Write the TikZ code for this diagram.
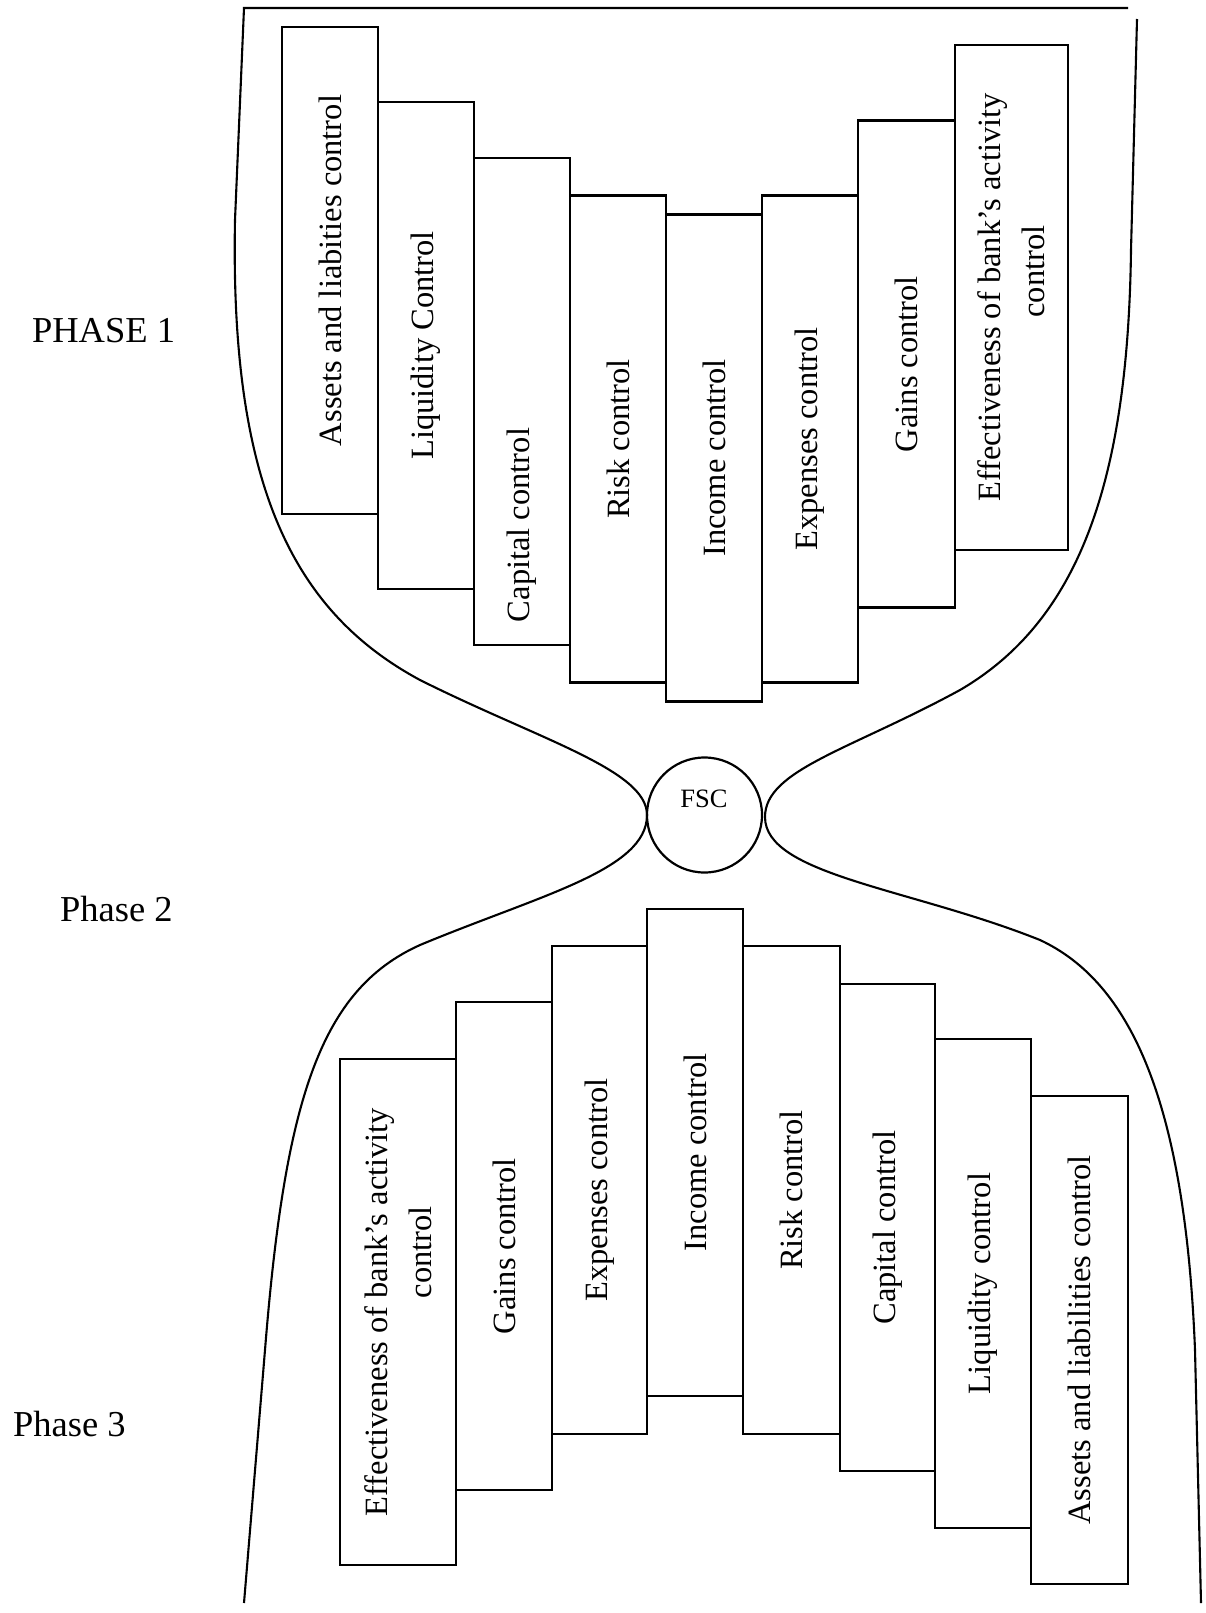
\documentclass[tikz,border=0pt]{standalone}
\usepackage{fontspec}
\setmainfont{Liberation Serif}
\begin{document}
\begin{tikzpicture}[x=1pt,y=-1pt,line width=2.2pt,
  box/.style={draw,rotate=90,inner sep=0pt,align=center,font=\fontsize{32.5}{38}\selectfont},
  topbox/.style={box,minimum width=487pt,minimum height=96pt},
  effbox/.style={box,font=\fontsize{32.5}{44}\selectfont},
  boxtext/.style={rotate=90,inner sep=0pt,font=\fontsize{32.5}{38}\selectfont},
  phase/.style={anchor=base west,inner sep=0pt,font=\fontsize{36.5}{44}\selectfont},
  outline/.style={line width=2.1pt}]
\useasboundingbox (0,0) rectangle (1205,1613);

% outline of the hourglass
\draw[outline] (1128,8) -- (244,8) -- (235,220)
  .. controls (230,480) and (290,610) .. (420,680)
  .. controls (540,740) and (647,770) .. (647,815)
  .. controls (647,870) and (540,895) .. (420,945)
  .. controls (320,990) and (285,1100) .. (265,1350) -- (244,1603);
\draw[outline] (1137,19) -- (1131,250)
  .. controls (1128,480) and (1080,620) .. (960,690)
  .. controls (850,750) and (765,770) .. (765,817)
  .. controls (765,875) and (910,888) .. (1040,940)
  .. controls (1130,982) and (1185,1100) .. (1195,1350) -- (1201,1603);

% phase labels
\node[phase] (p1) at (31,342) {PHASE 1};
\node[phase] (p2) at (59,921) {Phase 2};
\node[phase] (p3) at (12,1436) {Phase 3};

% top row
\node[topbox] (t1) at (330,270.5) {Assets and liabities control};
\node[topbox] (t2) at (426,345.5) {Liquidity Control};
\node[topbox] (t3) at (522,401.5) {};
\node[boxtext] (t3l) at (522,525) {Capital control};
\node[topbox] (t4) at (618,439) {Risk control};
\node[topbox] (t5) at (714,458) {Income control};
\node[topbox] (t6) at (810,439) {Expenses control};
\node[topbox,minimum height=97pt] (t7) at (906.5,364) {Gains control};
\node[effbox,minimum width=505pt,minimum height=113pt] (t8) at (1011.5,297.5)
  {Effectiveness of bank’s activity\\\hspace*{52pt}control};

% FSC
\node[draw,circle,minimum size=115pt,inner sep=0pt] (fsc) at (704.5,815) {};
\node[anchor=base,inner sep=0pt,font=\fontsize{26.5}{30}\selectfont] (fsct) at (704,807) {FSC};

% bottom row
\node[effbox,minimum width=506pt,minimum height=116pt] (b1) at (398,1312)
  {Effectiveness of bank’s activity\\\hspace*{120pt}control};
\node[topbox,minimum width=488pt] (b2) at (504,1246) {Gains control};
\node[topbox,minimum width=488pt,minimum height=95pt] (b3) at (599.5,1190) {Expenses control};
\node[topbox,minimum width=487pt] (b4) at (695,1152.5) {Income control};
\node[topbox,minimum width=488pt,minimum height=97pt] (b5) at (791.5,1190) {Risk control};
\node[topbox,minimum height=95pt] (b6) at (887.5,1227.5) {Capital control};
\node[topbox,minimum width=489pt] (b7) at (983,1283.5) {Liquidity control};
\node[topbox,minimum width=488pt,minimum height=97pt] (b8) at (1079.5,1340) {Assets and liabilities control};
\end{tikzpicture}
\end{document}
